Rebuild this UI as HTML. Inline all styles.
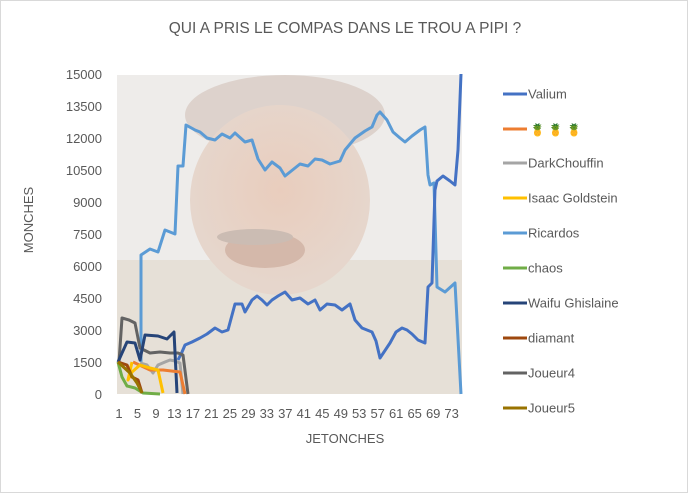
<!DOCTYPE html>
<html><head><meta charset="utf-8"><style>
body{margin:0;background:#fff;}
svg text{font-family:"Liberation Sans",sans-serif;fill:#595959;}
</style></head><body>
<svg width="688" height="493" viewBox="0 0 688 493" xmlns="http://www.w3.org/2000/svg">
<rect x="0.5" y="0.5" width="687" height="492" fill="#fff" stroke="#d9d9d9"/>
<text x="345" y="33" font-size="15.5" text-anchor="middle">QUI A PRIS LE COMPAS DANS LE TROU A PIPI ?</text>
<defs><clipPath id="pc"><rect x="117" y="75" width="345" height="319"/></clipPath>
<radialGradient id="fg" cx="0.5" cy="0.45" r="0.5"><stop offset="0" stop-color="#e9cdbd"/><stop offset="1" stop-color="#e6d6cc"/></radialGradient></defs>
<g clip-path="url(#pc)">
<rect x="117" y="75" width="345" height="319" fill="#eeecea"/>
<rect x="117" y="260" width="345" height="134" fill="#e6e0d7"/>
<ellipse cx="285" cy="115" rx="100" ry="40" fill="#ddd2cc"/>
<ellipse cx="280" cy="200" rx="90" ry="95" fill="url(#fg)"/>
<ellipse cx="265" cy="250" rx="40" ry="18" fill="#d4b8aa"/>
<ellipse cx="255" cy="237" rx="38" ry="8" fill="#cbbcb3"/>
</g>
<g font-size="13" text-anchor="end">
<text x="102" y="79">15000</text><text x="102" y="111">13500</text><text x="102" y="143">12000</text><text x="102" y="175">10500</text><text x="102" y="207">9000</text><text x="102" y="239">7500</text><text x="102" y="271">6000</text><text x="102" y="303">4500</text><text x="102" y="335">3000</text><text x="102" y="367">1500</text><text x="102" y="399">0</text>
</g>
<g font-size="13" text-anchor="middle">
<text x="119" y="418">1</text><text x="137.5" y="418">5</text><text x="156" y="418">9</text><text x="174.4" y="418">13</text><text x="192.9" y="418">17</text><text x="211.4" y="418">21</text><text x="229.9" y="418">25</text><text x="248.4" y="418">29</text><text x="266.8" y="418">33</text><text x="285.3" y="418">37</text><text x="303.8" y="418">41</text><text x="322.3" y="418">45</text><text x="340.8" y="418">49</text><text x="359.2" y="418">53</text><text x="377.7" y="418">57</text><text x="396.2" y="418">61</text><text x="414.7" y="418">65</text><text x="433.2" y="418">69</text><text x="451.6" y="418">73</text>
</g>
<text x="345" y="443" font-size="13" text-anchor="middle">JETONCHES</text>
<text x="0" y="0" font-size="13" text-anchor="middle" transform="translate(33,220) rotate(-90)">MONCHES</text>
<g fill="none" stroke-width="3" stroke-linejoin="round">
<polyline stroke="#5B9BD5" points="141,362 141,255 150,249 158,252 165,230 175,234 178,166 183,166 186,125 195,130 200,132 207,138 215,140 222,134 230,138 235,133 245,142 252,140 258,159 265,170 272,162 280,168 285,176 295,168 300,164 308,166 315,159 322,160 330,164 340,161 345,150 355,138 365,131 372,127 377,115 380,112 387,120 393,132 400,138 405,142 412,136 420,130 425,127 428,175 430,185 434,183 437,287 445,292 455,283 461,394"/>
<polyline stroke="#4472C4" points="178,360 182,352 185,345 192,342 200,338 207,334 215,328 222,332 228,330 235,304 242,304 245,312 252,300 257,296 262,300 267,305 272,300 278,296 285,292 292,300 300,298 308,304 315,300 320,310 327,304 335,305 342,310 350,304 355,320 362,328 372,332 376,341 380,358 384,352 390,343 396,332 402,328 407,330 412,334 418,340 425,343 428,287 432,283 435,190 437,181 443,176 450,181 455,185 458,150 461,74"/>
<polyline stroke="#A5A5A5" points="140,363 147,365 153,373 158,365 165,362 170,360 175,361 180,363 183,394"/>
<polyline stroke="#636363" points="119,362 122,318 129,320 135,323 140,348 150,353 160,352 170,353 178,353 183,355 188,394"/>
<polyline stroke="#264478" points="118,362 127,342 135,343 140,360 145,335 158,336 167,339 174,332 177,393"/>
<polyline stroke="#ED7D31" points="133,362 150,370 163,370 180,372 185,394"/>
<polyline stroke="#FFC000" points="132,362 128,380 132,372 140,365 150,368 158,370 163,393"/>
<polyline stroke="#70AD47" points="118,362 122,377 127,386 135,388 143,393 160,394"/>
<polyline stroke="#9E480E" points="118,362 127,365 132,377 138,380 142,393"/>
<polyline stroke="#997300" points="118,362 130,373 137,383 142,393"/>
</g>
<g stroke-width="3">
<line x1="503" y1="94" x2="527" y2="94" stroke="#4472C4"/>
<line x1="503" y1="129" x2="527" y2="129" stroke="#ED7D31"/>
<line x1="503" y1="163" x2="527" y2="163" stroke="#A5A5A5"/>
<line x1="503" y1="198" x2="527" y2="198" stroke="#FFC000"/>
<line x1="503" y1="233" x2="527" y2="233" stroke="#5B9BD5"/>
<line x1="503" y1="268" x2="527" y2="268" stroke="#70AD47"/>
<line x1="503" y1="303" x2="527" y2="303" stroke="#264478"/>
<line x1="503" y1="338" x2="527" y2="338" stroke="#9E480E"/>
<line x1="503" y1="373" x2="527" y2="373" stroke="#636363"/>
<line x1="503" y1="408" x2="527" y2="408" stroke="#997300"/>
</g>
<g font-size="13">
<text x="528" y="98.5">Valium</text>
<text x="530" y="134" font-size="12" style="fill:#e8965a">🍍 🍍 🍍</text>
<text x="528" y="167.5">DarkChouffin</text>
<text x="528" y="202.5">Isaac Goldstein</text>
<text x="528" y="237.5">Ricardos</text>
<text x="528" y="272.5">chaos</text>
<text x="528" y="307.5">Waifu Ghislaine</text>
<text x="528" y="342.5">diamant</text>
<text x="528" y="377.5">Joueur4</text>
<text x="528" y="412.5">Joueur5</text>
</g>
</svg>
</body></html>
